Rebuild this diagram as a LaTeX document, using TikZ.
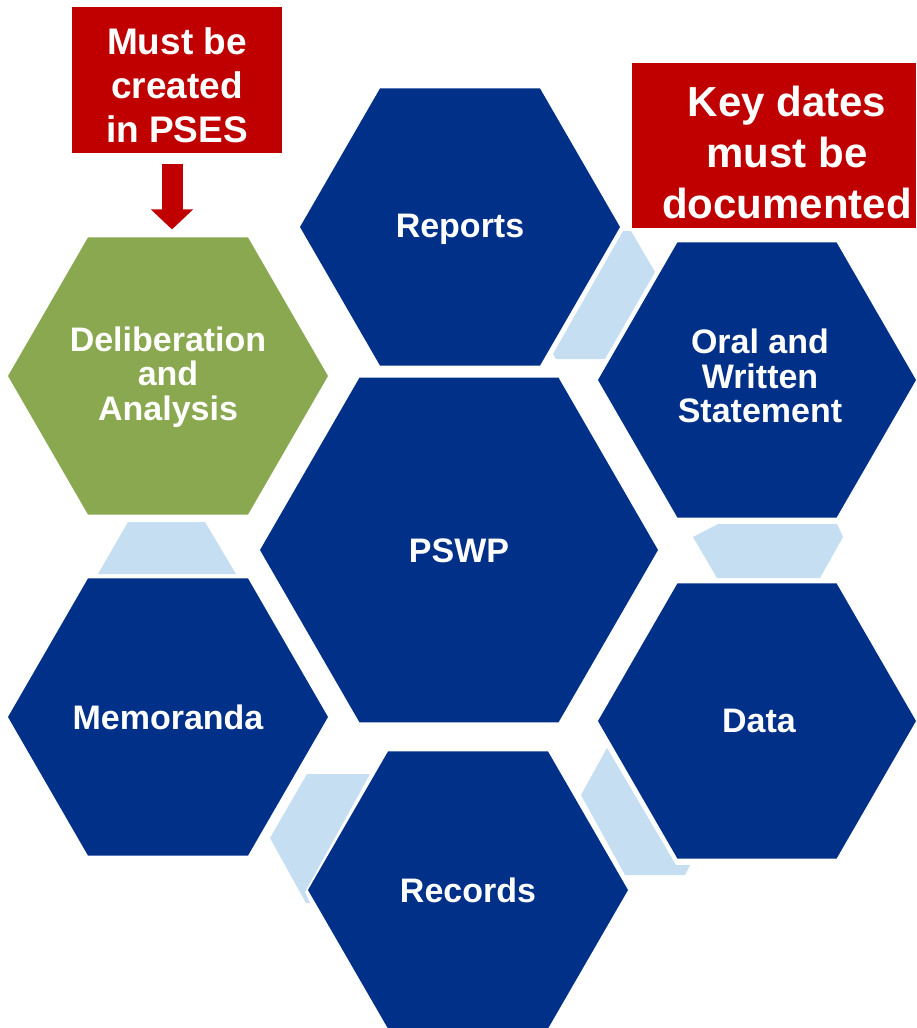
\documentclass[tikz,border=0pt]{standalone}
\usepackage{fontspec}
\setmainfont{Liberation Sans}
\usetikzlibrary{shapes.geometric,arrows.meta}
\definecolor{navy}{RGB}{0,48,135}
\definecolor{leaf}{RGB}{138,168,80}
\definecolor{pale}{RGB}{197,222,242}
\definecolor{alert}{RGB}{192,0,0}
\begin{document}
\begin{tikzpicture}[x=1pt,y=-1pt,
  hex/.style={regular polygon, regular polygon sides=6, inner sep=0pt, outer sep=0pt,
    minimum size=#1, text=white, align=center,
    font=\bfseries\fontsize{34}{35}\selectfont},
  hexlabel/.style={text=white, align=center, font=\bfseries\fontsize{34}{34.5}\selectfont},
  redbox/.style={fill=alert, inner sep=0pt, outer sep=0pt, anchor=north west},
  redtext/.style={text=white, align=center},
  link/.style={fill=pale},
  redarrow/.style={alert, line width=21pt, -{Triangle[width=41pt,length=20pt]}}]
\useasboundingbox (0,0) rectangle (916,1028);
% connectors
\fill[link] (623,231) -- (631,231) -- (655,272) -- (605,359) -- (556,359) -- (553,354) -- cycle;
\fill[link] (718,524) -- (837,524) -- (843,537) -- (820,578) -- (717,578) -- (693,537) -- cycle;
\fill[link] (607,748) -- (676,865) -- (690,865) -- (685,875) -- (625,875) -- (581,795) -- cycle;
\fill[link] (307,774) -- (370,774) -- (305,892) -- (310,903) -- (306,903) -- (270,838) -- cycle;
\fill[link] (128,522) -- (205,522) -- (236,574) -- (98,574) -- cycle;
% hexagons
\node[hex=320pt, fill=navy] (reports) at (460,227) {};
\node[hex=318pt, fill=navy] (oral) at (757,380) {};
\node[hex=320pt, fill=leaf] (deli) at (168,376) {};
\node[hex=398pt, fill=navy] (pswp) at (459,550) {};
\node[hex=320pt, fill=navy] (memo) at (168,717) {};
\node[hex=318pt, fill=navy] (data) at (757,721) {};
\node[hex=320pt, fill=navy] (records) at (468,890) {};
% hexagon labels
\node[hexlabel] (reportsl) at (460,229) {Reports};
\node[hexlabel] (orall) at (760,376) {Oral and\\Written\\Statement};
\node[hexlabel] (delil) at (168,377) {Deliberation\\and\\Analysis};
\node[hexlabel] (pswpl) at (459,551) {PSWP};
\node[hexlabel] (memol) at (168,717) {Memoranda};
\node[hexlabel] (datal) at (759,721) {Data};
\node[hexlabel] (recordsl) at (468,890) {Records};
% red notes
\node[redbox, minimum width=210pt, minimum height=146pt] (box1) at (72,7) {};
\node[redtext, font=\bfseries\fontsize{37}{44}\selectfont] (text1) at (177,85) {Must be\\created\\in PSES};
\node[redbox, minimum width=284pt, minimum height=165pt] (box2) at (632,63) {};
\node[redtext, font=\bfseries\fontsize{42}{51}\selectfont] (text2) at (787,152) {Key dates\\must be\\documented};
\draw[redarrow] ([xshift=-5pt,yshift=-11pt]box1.south) -- ([xshift=4pt,yshift=8pt]deli.north);
\end{tikzpicture}
\end{document}
